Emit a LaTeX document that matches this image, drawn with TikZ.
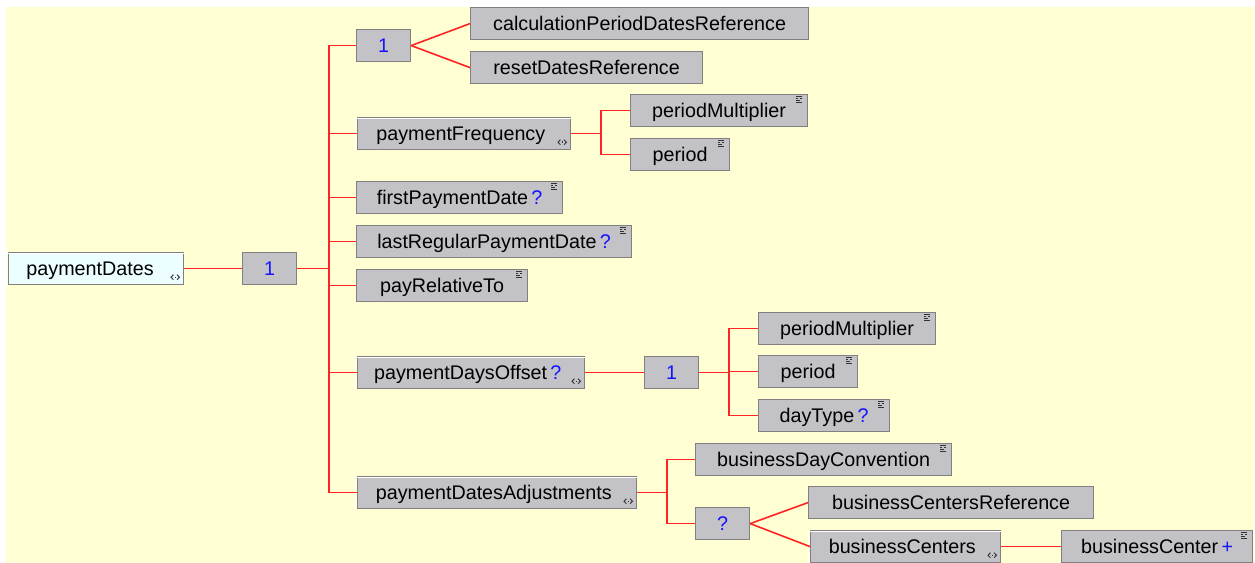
\documentclass[tikz,border=0pt]{standalone}
\usepackage{fontspec}
\setmainfont{Liberation Sans}
\newcommand{\boxfont}{\fontsize{14.8pt}{17pt}\selectfont}
\newcommand{\occ}[1]{\,\textcolor[RGB]{20,20,255}{#1}}
\newcommand{\padr}[1]{\kern#1\relax}

\tikzset{every picture/.style={line width=0.75pt}}
\tikzset{
  elem/.style={rectangle, anchor=north west, draw={rgb, 255:red, 128; green, 128; blue, 128 }, line width=0.9pt,
    fill={rgb, 255:red, 195; green, 194; blue, 199 }, minimum height=24pt, minimum width=#1*0.75pt, inner sep=0pt,
    text height=12.5pt, text depth=2pt, font=\boxfont},
  rootelem/.style={elem=#1, fill={rgb, 255:red, 236; green, 254; blue, 255 }},
  group/.style={elem=54, text={rgb, 255:red, 20; green, 20; blue, 255 }},
  link/.style={draw={rgb, 255:red, 255; green, 35; blue, 35 }, line width=1.2pt},
  markfill/.style={fill={rgb, 255:red, 50; green, 50; blue, 50 }},
}

% dotted mark at the top right of a box
\newcommand{\attrmark}[1]{%
  \begin{scope}[shift={(#1.north east)}]
    \foreach \dx/\dy in {-12/2,-10/2,-8/2,-12/4,-8/4,-12/6,-10/6,-12/8,-10/8,-8/8}
      \fill[markfill] (\dx,\dy) rectangle ++(1.4,1.4);
  \end{scope}}
% <> mark at the bottom right of a box
\newcommand{\typemark}[1]{%
  \begin{scope}[shift={(#1.south east)}]
    \draw[draw={rgb, 255:red, 50; green, 50; blue, 50 }, line width=0.7pt] (-10.8,-10.5) -- (-13.2,-8) -- (-10.8,-5.5) (-7.2,-10.5) -- (-4.8,-8) -- (-7.2,-5.5);
    \fill[markfill] (-9.7,-8.7) rectangle ++(1.4,1.4);
  \end{scope}}
% white edge on top and left of a box
\newcommand{\bevel}[1]{%
  \draw[white, line width=1pt] ([xshift=-1pt,yshift=-0.5pt]#1.south west) -- ([xshift=-1pt,yshift=1pt]#1.north west) -- ([yshift=1pt]#1.north east);}

\begin{document}
\begin{tikzpicture}[x=0.75pt,y=0.75pt,yscale=-1,xscale=1]
    \useasboundingbox (0,0) rectangle (1255,563);
    %Shape: Rectangle [background]
    \fill[fill={rgb, 255:red, 255; green, 255; blue, 211 }] (6,7) rectangle (1254,563);

    % Boxes
    \draw (8,252) node [rootelem=175] (root) {paymentDates\padr{9pt}};
    \draw (242,252) node [group] (seqa) {1};
    \draw (356,29) node [group] (seqb) {1};
    \draw (470,7) node [elem=338] (calcref) {calculationPeriodDatesReference};
    \draw (470,51) node [elem=232] (resetref) {resetDatesReference};
    \draw (357,117) node [elem=213] (payfreq) {paymentFrequency\padr{5pt}};
    \draw (630,94) node [elem=177] (permulta) {periodMultiplier};
    \draw (630,138) node [elem=99] (perioda) {period};
    \draw (356,181) node [elem=206] (firstpay) {firstPaymentDate\occ{?}};
    \draw (356,225) node [elem=275] (lastreg) {lastRegularPaymentDate\occ{?}};
    \draw (356,269) node [elem=171] (payrel) {payRelativeTo};
    \draw (357,356) node [elem=227] (daysoff) {paymentDaysOffset\occ{?}\padr{5pt}};
    \draw (644,356) node [group] (seqc) {1};
    \draw (758,312) node [elem=177] (permultb) {periodMultiplier};
    \draw (758,355) node [elem=99] (periodb) {period};
    \draw (758,399) node [elem=131] (daytype) {dayType\occ{?}};
    \draw (357,476) node [elem=279] (adjust) {paymentDatesAdjustments\padr{5pt}};
    \draw (695,443) node [elem=256] (bdc) {businessDayConvention};
    \draw (695,507) node [group] (choice) {?};
    \draw (808,486) node [elem=285] (bcref) {businessCentersReference};
    \draw (810,530) node [elem=190] (bcs) {businessCenters\padr{5pt}};
    \draw (1061,530) node [elem=191] (bcentre) {businessCenter\occ{+}};

    % Marks
    \foreach \n in {root,payfreq,daysoff,adjust,bcs} {\bevel{\n} \typemark{\n}}
    \foreach \n in {permulta,perioda,firstpay,lastreg,payrel,permultb,periodb,daytype,bdc,bcentre} {\attrmark{\n}}

    % Links
    \draw[link] (root.east) -- (seqa.west);
    \foreach \n in {seqb,payfreq,firstpay,lastreg,payrel,daysoff,adjust}
      \draw[link] (seqa.east) -- ++(32,0) |- (\n.west);
    \draw[link] (seqb.east) -- (calcref.west);
    \draw[link] (seqb.east) -- (resetref.west);
    \draw[link] (payfreq.east) -- ++(30,0) |- (permulta.west);
    \draw[link] (payfreq.east) -- ++(30,0) |- (perioda.west);
    \draw[link] (daysoff.east) -- (seqc.west);
    \foreach \n in {permultb,periodb,daytype}
      \draw[link] (seqc.east) -- ++(30,0) |- (\n.west);
    \draw[link] (adjust.east) -- ++(30,0) |- (bdc.west);
    \draw[link] (adjust.east) -- ++(30,0) |- (choice.west);
    \draw[link] (choice.east) -- (bcref.west);
    \draw[link] (choice.east) -- (bcs.west);
    \draw[link] (bcs.east) -- (bcentre.west);
\end{tikzpicture}
\end{document}
